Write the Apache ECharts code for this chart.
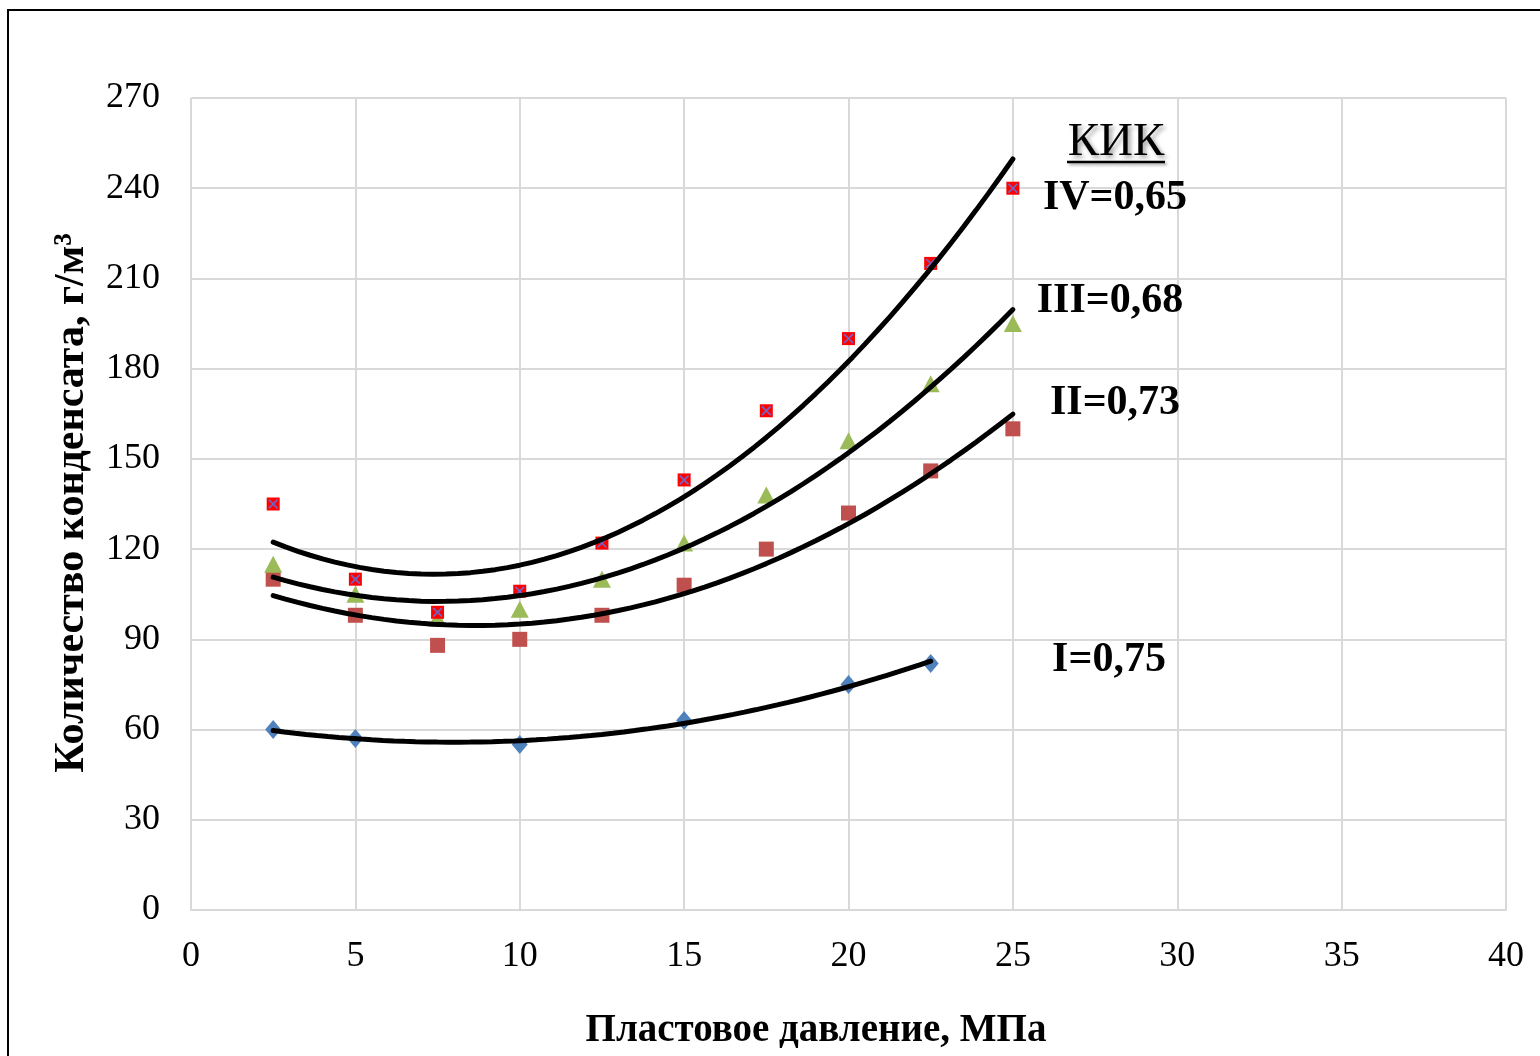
<!DOCTYPE html>
<html>
<head>
<meta charset="utf-8">
<script src="https://cdn.jsdelivr.net/npm/echarts@6/dist/echarts.min.js"></script>
<style>
html,body{margin:0;padding:0;background:#fff;}
#c{width:1540px;height:1056px;}
</style>
</head>
<body>
<div id="c"></div>
<script>
// ---- data ----
const xI   = [2.5, 5, 10, 15, 20, 22.5];
const yI   = [60, 57, 55, 63, 75, 82];
const xII  = [2.5, 5, 7.5, 10, 12.5, 15, 17.5, 20, 22.5, 25];
const yII  = [110, 98, 88, 90, 98, 108, 120, 132, 146, 160];
const xIII = [2.5, 5, 7.5, 10, 12.5, 15, 17.5, 20, 22.5, 25];
const yIII = [115, 105, 97, 100, 110, 122, 138, 156, 175, 195];
const xIV  = [2.5, 5, 7.5, 10, 12.5, 15, 17.5, 20, 22.5, 25];
const yIV  = [135, 110, 99, 106, 122, 143, 166, 190, 215, 240];
const xTicks = [0, 5, 10, 15, 20, 25, 30, 35, 40];
const yTicks = [0, 30, 60, 90, 120, 150, 180, 210, 240, 270];
const seriesLabels = ['I=0,75', 'II=0,73', 'III=0,68', 'IV=0,65'];
const legendTitle = 'КИК';
const xTitle = 'Пластовое давление, МПа';
const yTitle = 'Количество конденсата, г/м³';

function pairs(xs, ys){ return xs.map((x,i)=>[x, ys[i]]); }

// quadratic least-squares trendline (as the Excel polynomial trendline)
function polyFit2(xs, ys){
  let S=[0,0,0,0,0], T=[0,0,0];
  for(let i=0;i<xs.length;i++){
    let p=1;
    for(let k=0;k<5;k++){ S[k]+=p; if(k<3) T[k]+=p*ys[i]; p*=xs[i]; }
  }
  const A=[[S[0],S[1],S[2],T[0]],[S[1],S[2],S[3],T[1]],[S[2],S[3],S[4],T[2]]];
  for(let c=0;c<3;c++){
    let piv=c; for(let r=c+1;r<3;r++) if(Math.abs(A[r][c])>Math.abs(A[piv][c])) piv=r;
    [A[c],A[piv]]=[A[piv],A[c]];
    for(let r=0;r<3;r++){ if(r===c) continue; const f=A[r][c]/A[c][c]; for(let k=c;k<4;k++) A[r][k]-=f*A[c][k]; }
  }
  return [A[0][3]/A[0][0], A[1][3]/A[1][1], A[2][3]/A[2][2]];
}
function trend(xs, ys){
  const c = polyFit2(xs, ys);
  const x0 = Math.min(...xs), x1 = Math.max(...xs);
  const out = [];
  const n = 60;
  for(let i=0;i<=n;i++){ const x = x0 + (x1-x0)*i/n; out.push([x, c[0]+c[1]*x+c[2]*x*x]); }
  return out;
}

const FONT = '"Liberation Serif","Times New Roman",serif';
const gridColor = '#d9d9d9';

function trendSeries(xs, ys){
  return { type:'line', data: trend(xs, ys), showSymbol:false, symbol:'none', smooth:false,
    lineStyle:{color:'#000', width:5, cap:'round'}, z:5, silent:true };
}

const chart = echarts.init(document.getElementById('c'));
chart.setOption({
  animation:false,
  backgroundColor:'#fff',
  grid:{left:191, right:34, top:98, bottom:146, containLabel:false},
  xAxis:{
    type:'value', min:0, max:40, interval:5,
    axisLine:{show:true, lineStyle:{color:gridColor, width:2}},
    axisTick:{show:false},
    splitLine:{show:true, lineStyle:{color:gridColor, width:2}},
    axisLabel:{fontFamily:FONT, fontSize:36, color:'#000', margin:29,
      formatter:v=>xTicks.includes(v)?String(v):''}
  },
  yAxis:{
    type:'value', min:0, max:270, interval:30,
    axisLine:{show:false},
    axisTick:{show:false},
    splitLine:{show:true, lineStyle:{color:gridColor, width:2}},
    axisLabel:{fontFamily:FONT, fontSize:36, color:'#000', margin:31, padding:[4,0,0,0],
      formatter:v=>yTicks.includes(v)?String(v):''}
  },
  series:[
    {type:'scatter', data:pairs(xI,yI), symbol:'diamond', symbolSize:[16,19], itemStyle:{color:'#4f81bd', opacity:1}, z:3},
    {type:'scatter', data:pairs(xII,yII), symbol:'rect', symbolSize:15, itemStyle:{color:'#c0504d', opacity:1}, z:3},
    {type:'scatter', data:pairs(xIII,yIII), symbol:'triangle', symbolSize:[18,17], itemStyle:{color:'#9bbb59', opacity:1}, z:3},
    {type:'scatter', data:pairs(xIV,yIV), symbol:'rect', symbolSize:13, itemStyle:{color:'#ff0000', opacity:1}, z:3},
    {type:'scatter', data:pairs(xIV,yIV), symbol:'path://M0,1.2L1.2,0L10,8.8L8.8,10Z M8.8,0L10,1.2L1.2,10L0,8.8Z', symbolSize:10,
      itemStyle:{color:'#7563c4', opacity:1}, z:4},
    trendSeries(xI,yI),
    trendSeries(xII,yII),
    trendSeries(xIII,yIII),
    trendSeries(xIV,yIV)
  ],
  graphic:[
    {type:'rect', shape:{x:8, y:10, width:1700, height:1200}, style:{fill:'none', stroke:'#000', lineWidth:2}, z:100},
    {type:'text', x:1116, y:143, style:{text:legendTitle, font:'47px '+FONT, fill:'#000', align:'center', verticalAlign:'middle',
      textShadowColor:'rgba(0,0,0,0.35)', textShadowBlur:4, textShadowOffsetX:3, textShadowOffsetY:3}, z:50},
    {type:'line', shape:{x1:1067, y1:162, x2:1165, y2:162}, style:{stroke:'#000', lineWidth:2.5,
      shadowColor:'rgba(0,0,0,0.35)', shadowBlur:3, shadowOffsetX:2, shadowOffsetY:2}, z:50},
    {type:'text', x:1115, y:198, style:{text:seriesLabels[3], font:'bold 42px '+FONT, fill:'#000', align:'center', verticalAlign:'middle'}, z:50},
    {type:'text', x:1110, y:301, style:{text:seriesLabels[2], font:'bold 42px '+FONT, fill:'#000', align:'center', verticalAlign:'middle'}, z:50},
    {type:'text', x:1115, y:403, style:{text:seriesLabels[1], font:'bold 42px '+FONT, fill:'#000', align:'center', verticalAlign:'middle'}, z:50},
    {type:'text', x:1109, y:660, style:{text:seriesLabels[0], font:'bold 42px '+FONT, fill:'#000', align:'center', verticalAlign:'middle'}, z:50},
    {type:'text', x:816, y:1031, style:{text:xTitle, font:'bold 39px '+FONT, fill:'#000', align:'center', verticalAlign:'middle'}, z:50},
    {type:'text', x:72, y:503, rotation:Math.PI/2, style:{text:yTitle, font:'bold 42px '+FONT, fill:'#000', align:'center', verticalAlign:'middle'}, z:50}
  ]
});
</script>
</body>
</html>
